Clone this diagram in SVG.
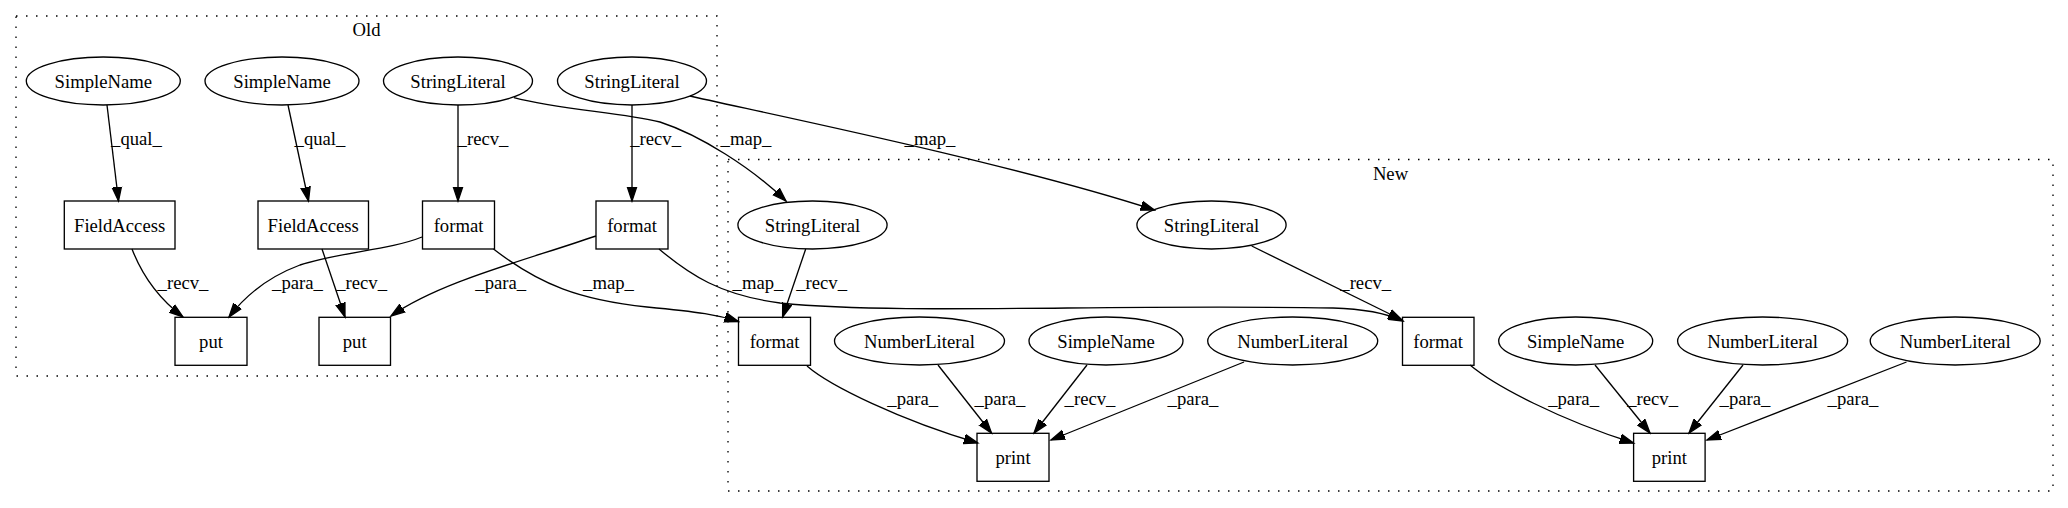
<svg xmlns="http://www.w3.org/2000/svg" width="2068" height="508" viewBox="0 0 2068 508">
<style>
text{font-family:"Liberation Serif","Times New Roman",serif;font-size:18.67px;fill:#000;text-anchor:middle}
.n ellipse,.n rect{fill:none;stroke:#000;stroke-width:1.33}
.cl{fill:none;stroke:#000;stroke-width:1.33;stroke-dasharray:1.5,8.5}
.e path{fill:none;stroke:#000;stroke-width:1.33;marker-end:url(#ah)}
</style>
<defs>
<marker id="ah" markerUnits="userSpaceOnUse" markerWidth="16" markerHeight="12" viewBox="0 -6 16 12" refX="14" refY="0" orient="auto">
<path d="M0,-4.67 L14,0 L0,4.67 z" fill="#000" stroke="#000" stroke-width="1.33"/>
</marker>
</defs>
<rect width="2068" height="508" fill="#fff"/>
<g id="cluster_old">
<rect class="cl" x="16" y="16" width="701" height="360"/>
<text x="366.5" y="36">Old</text>
</g>
<g id="cluster_new">
<rect class="cl" x="728" y="159.5" width="1325" height="331.5"/>
<text x="1390.5" y="180">New</text>
</g>
<g id="edges" class="e">
<path d="M107,105 L118.5,201"/>
<path d="M288,105 L308.5,201"/>
<path d="M458,105 L458,201"/>
<path d="M632,105 L632,201"/>
<path d="M132,249 C142,275 158,298 183,317"/>
<path d="M422,237 C390,250 340,252 300,265 C265,278 242,300 229,317"/>
<path d="M322,249 L345,317"/>
<path d="M596,236 C520,262 440,282 391,316"/>
<path d="M493.5,249 C540,285 580,300 647,307 C700,312 718,315 738.5,321.5"/>
<path d="M659,249 C690,275 720,295 780,303 C900,315 1100,304 1333,308 C1370,309 1390,315 1403,321"/>
<path d="M514,97.7 C560,110 620,112 660,122 C700,135 752,168 786,201"/>
<path d="M690,96 C740,108 1000,160 1154.5,210"/>
<path d="M805.7,249 L782.6,317"/>
<path d="M1251.7,246 L1402,320"/>
<path d="M807,366 C830,386 900,420 977.8,443"/>
<path d="M938,365 L991.5,433"/>
<path d="M1087,365 L1034,433"/>
<path d="M1244,362 L1051,440"/>
<path d="M1470,365 C1495,386 1560,420 1633.6,443"/>
<path d="M1595,365 L1650,433"/>
<path d="M1743,365 L1689,433"/>
<path d="M1906.5,362 L1707,440"/>
</g>
<g id="edge_labels">
<text x="136.5" y="145">_qual_</text>
<text x="320" y="145">_qual_</text>
<text x="483" y="145">_recv_</text>
<text x="655.6" y="145">_recv_</text>
<text x="746" y="145">_map_</text>
<text x="930" y="145">_map_</text>
<text x="183" y="289">_recv_</text>
<text x="297.5" y="289">_para_</text>
<text x="361.6" y="289">_recv_</text>
<text x="500.7" y="289">_para_</text>
<text x="608.5" y="289">_map_</text>
<text x="758" y="289">_map_</text>
<text x="821.6" y="289">_recv_</text>
<text x="1365.7" y="289">_recv_</text>
<text x="912.7" y="405">_para_</text>
<text x="1000" y="405">_para_</text>
<text x="1090" y="405">_recv_</text>
<text x="1193" y="405">_para_</text>
<text x="1573.6" y="405">_para_</text>
<text x="1652.6" y="405">_recv_</text>
<text x="1745" y="405">_para_</text>
<text x="1853" y="405">_para_</text>
</g>
<g id="old_simplename1" class="n"><ellipse cx="103.3" cy="81" rx="77" ry="24"/><text x="103.3" y="87.5">SimpleName</text></g>
<g id="old_simplename2" class="n"><ellipse cx="282" cy="81" rx="77" ry="24"/><text x="282" y="87.5">SimpleName</text></g>
<g id="old_stringliteral1" class="n"><ellipse cx="458" cy="81" rx="74.5" ry="24"/><text x="458" y="87.5">StringLiteral</text></g>
<g id="old_stringliteral2" class="n"><ellipse cx="632" cy="81" rx="74.5" ry="24"/><text x="632" y="87.5">StringLiteral</text></g>
<g id="old_fieldaccess1" class="n"><rect x="64.3" y="201" width="110.7" height="48"/><text x="119.6" y="231.5">FieldAccess</text></g>
<g id="old_fieldaccess2" class="n"><rect x="258" y="201" width="110.5" height="48"/><text x="313.2" y="231.5">FieldAccess</text></g>
<g id="old_format1" class="n"><rect x="422.5" y="201" width="72" height="48"/><text x="458.5" y="231.5">format</text></g>
<g id="old_format2" class="n"><rect x="596" y="201" width="72" height="48"/><text x="632" y="231.5">format</text></g>
<g id="old_put1" class="n"><rect x="175" y="317.3" width="72" height="48"/><text x="211" y="347.8">put</text></g>
<g id="old_put2" class="n"><rect x="319" y="317.3" width="71.5" height="48"/><text x="354.7" y="347.8">put</text></g>
<g id="new_stringliteral1" class="n"><ellipse cx="812.5" cy="225" rx="74.6" ry="24"/><text x="812.5" y="231.5">StringLiteral</text></g>
<g id="new_stringliteral2" class="n"><ellipse cx="1211.5" cy="225" rx="74.6" ry="24"/><text x="1211.5" y="231.5">StringLiteral</text></g>
<g id="new_format1" class="n"><rect x="738.5" y="317.3" width="72" height="48"/><text x="774.5" y="347.8">format</text></g>
<g id="new_numberliteral1" class="n"><ellipse cx="919.5" cy="341" rx="85" ry="24"/><text x="919.5" y="347.5">NumberLiteral</text></g>
<g id="new_simplename1" class="n"><ellipse cx="1106" cy="341" rx="77" ry="24"/><text x="1106" y="347.5">SimpleName</text></g>
<g id="new_numberliteral2" class="n"><ellipse cx="1292.7" cy="341" rx="85" ry="24"/><text x="1292.7" y="347.5">NumberLiteral</text></g>
<g id="new_format2" class="n"><rect x="1402.5" y="317.3" width="71.5" height="48"/><text x="1438.2" y="347.8">format</text></g>
<g id="new_simplename2" class="n"><ellipse cx="1575.7" cy="341" rx="77" ry="24"/><text x="1575.7" y="347.5">SimpleName</text></g>
<g id="new_numberliteral3" class="n"><ellipse cx="1762.6" cy="341" rx="85" ry="24"/><text x="1762.6" y="347.5">NumberLiteral</text></g>
<g id="new_numberliteral4" class="n"><ellipse cx="1955.2" cy="341" rx="85" ry="24"/><text x="1955.2" y="347.5">NumberLiteral</text></g>
<g id="new_print1" class="n"><rect x="977" y="433.3" width="72" height="48"/><text x="1013" y="463.8">print</text></g>
<g id="new_print2" class="n"><rect x="1633.6" y="433.3" width="71.5" height="48"/><text x="1669.3" y="463.8">print</text></g>
</svg>
